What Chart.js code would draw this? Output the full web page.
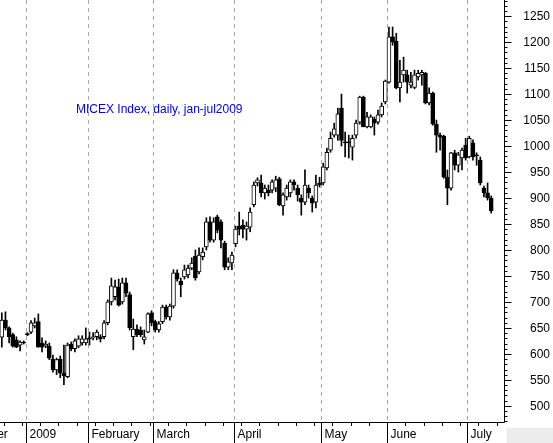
<!DOCTYPE html>
<html lang="en">
  <head>
    <meta charset="UTF-8" />
    <title>MICEX Index, daily</title>
    <script src="https://cdn.jsdelivr.net/npm/chart.js@4/dist/chart.umd.min.js"></script>
    <style>
      html, body { margin: 0; padding: 0; background: #fff; }
      #wrap { width: 553px; height: 443px; }
    </style>
  </head>
  <body>
    <div id="wrap"><canvas id="myChart"></canvas></div>
    <script>
      // candles, Dec 2008 .. Jul 2009
      const opens = [632,665,650,637,627,617,623,
        639,642,654,662,621,615,615,590,569,590,563,556,619,610,615,621,621,
        631,631,633,633,633,660,700,710,729,700,737,714,633,648,646,627,642,679,
        662,646,662,690,671,692,756,740,748,752,765,788,758,787,806,854,819,864,854,813,767,775,
        812,846,848,840,844,887,929,929,910,915,915,919,937,885,902,910,931,919,900,892,919,900,892,929,
        929,958,992,1021,1021,1073,1008,1008,998,1021,1046,1094,1037,1037,1052,1046,1060,1085,
        1123,1210,1202,1112,1137,1137,1117,1113,1133,1137,1140,1083,1102,1042,1021,1019,940,919,987,963,977,1002,
        979,1006,983,973,919,910,900];
      const closes = [665,650,633,615,613,623,621,
        637,660,660,613,613,619,592,569,589,563,558,617,610,625,629,629,629,
        629,633,642,629,660,700,731,729,694,737,717,650,648,637,637,633,677,660,
        646,658,690,671,692,756,744,733,762,765,775,746,790,796,854,819,854,838,819,767,777,790,
        840,840,840,846,873,925,935,910,919,910,931,935,887,906,919,931,925,906,892,925,910,890,925,925,
        960,988,1015,1033,1062,1011,1006,1006,1015,1044,1094,1037,1056,1056,1044,1060,1077,1125,
        1210,1200,1112,1123,1146,1123,1123,1137,1140,1142,1083,1102,1042,1021,1017,940,919,987,963,983,992,977,
        1015,979,981,929,910,900,875];
      const highs = [679,681,652,640,633,625,625,
        641,664,669,677,631,625,621,598,592,596,617,621,623,629,635,635,650,
        642,641,646,637,664,704,746,742,744,746,746,719,667,656,652,646,679,683,
        665,662,694,694,696,762,762,746,771,771,785,800,804,804,862,864,862,867,858,817,785,796,
        846,873,858,854,881,931,939,944,925,925,935,942,940,910,925,935,935,925,906,954,925,904,944,940,
        967,996,1027,1044,1073,1100,1027,1021,1021,1050,1096,1096,1065,1060,1056,1069,1083,1127,
        1229,1229,1217,1165,1171,1146,1142,1146,1146,1146,1142,1112,1104,1050,1025,1021,954,988,992,988,996,1015,
        1019,1012,987,979,923,929,904];
      const lows = [613,646,621,613,612,606,619,
        635,639,650,613,604,612,589,565,560,554,541,554,606,604,612,617,617,
        617,627,627,623,629,656,694,704,692,696,710,646,608,633,633,619,641,654,
        642,642,658,667,665,688,740,710,744,746,762,742,754,781,800,815,815,833,804,762,762,762,
        806,829,823,819,835,883,923,902,898,904,910,912,885,867,896,902,915,894,867,887,900,873,881,921,
        925,954,988,1017,1011,1000,979,977,973,1015,1042,1037,1035,1035,1021,1042,1056,1081,
        1121,1194,1110,1085,1123,1102,1112,1110,1127,1117,1081,1079,1040,988,992,938,887,915,954,950,954,973,
        977,973,963,925,902,896,871];

      // month boundaries (candle index) and names
      const monthStarts = [-14, 7, 24, 42, 64, 88, 106, 128];
      const monthNames = ["December", "2009", "February", "March", "April", "May", "June", "July"];
      const yTicks = [500,550,600,650,700,750,800,850,900,950,1000,1050,1100,1150,1200,1250];
      const chartTitle = "MICEX Index, daily, jan-jul2009";
      const emptySlots = 3; // blank days after the last candle

      const labels = Array.from({ length: opens.length + emptySlots }, (_, i) => i);
      const wicks = lows.map((l, i) => [l, highs[i]]);
      const bodies = opens.map((o, i) => [Math.min(o, closes[i]), Math.max(o, closes[i]) + (o === closes[i] ? 1 : 0)]);
      const bodyColors = opens.map((o, i) => (closes[i] >= o ? "#ffffff" : "#000000"));
      const FONT = "12px 'Liberation Sans', Arial, sans-serif";

      const decor = {
        id: "decor",
        beforeDatasetsDraw(chart) {
          const { ctx, chartArea, scales } = chart;
          const x = scales.x;
          ctx.save();
          ctx.strokeStyle = "#aaaaaa";
          ctx.lineWidth = 1;
          ctx.setLineDash([4, 4]);
          monthStarts.forEach((m) => {
            const px = Math.round(x.getPixelForValue(m - 0.5)) + 0.5;
            if (px < chartArea.left || px > chartArea.right) return;
            ctx.beginPath();
            ctx.moveTo(px, 0);
            ctx.lineTo(px, chartArea.bottom);
            ctx.stroke();
          });
          ctx.restore();
        },
        afterDraw(chart) {
          const { ctx, chartArea, scales } = chart;
          const x = scales.x;
          const y = scales.y;
          ctx.save();
          const bottom = chartArea.bottom;
          const right = Math.round(chartArea.right) + 0.5;
          // grey corner box below the price axis
          ctx.fillStyle = "#ececec";
          ctx.fillRect(right + 2, bottom + 6, chart.width - right, chart.height - bottom);
          ctx.strokeStyle = "#000";
          ctx.lineWidth = 1;
          ctx.beginPath();
          ctx.moveTo(0, bottom + 0.5);
          ctx.lineTo(right, bottom + 0.5);
          ctx.moveTo(right, 0);
          ctx.lineTo(right, bottom + 0.5);
          ctx.stroke();
          // minor ticks every 10 points
          for (let v = 470; v <= 1280; v += 10) {
            const py = Math.round(y.getPixelForValue(v)) + 0.5;
            ctx.beginPath();
            ctx.moveTo(right, py);
            ctx.lineTo(right + 3, py);
            ctx.stroke();
          }
          // right axis ticks and labels
          ctx.font = FONT;
          ctx.fillStyle = "#000";
          ctx.textBaseline = "middle";
          ctx.textAlign = "right";
          yTicks.forEach((v) => {
            const py = Math.round(y.getPixelForValue(v)) + 0.5;
            ctx.beginPath();
            ctx.moveTo(right, py);
            ctx.lineTo(right + 7, py);
            ctx.stroke();
            ctx.fillText(String(v), 550, py);
          });
          // weekly minor ticks
          for (let i = -14; i < labels.length; i += 5) {
            const px = Math.round(x.getPixelForValue(i - 0.5)) + 0.5;
            if (px < 0 || px > chartArea.right) continue;
            ctx.beginPath();
            ctx.moveTo(px, bottom);
            ctx.lineTo(px, bottom + 4);
            ctx.stroke();
          }
          ctx.textAlign = "left";
          monthStarts.forEach((m, k) => {
            const px = Math.round(x.getPixelForValue(m - 0.5)) + 0.5;
            ctx.beginPath();
            ctx.moveTo(px, bottom);
            ctx.lineTo(px, chart.height);
            ctx.stroke();
            ctx.fillText(monthNames[k], px + 3, bottom + 13);
          });
          ctx.fillStyle = "#0000ee";
          ctx.fillText(chartTitle, 76, 110);
          ctx.restore();
        },
      };

      new Chart(document.getElementById("myChart"), {
        type: "bar",
        data: {
          labels: labels,
          datasets: [
            {
              data: wicks,
              backgroundColor: "#000",
              barThickness: 1,
              grouped: false,
              order: 2,
            },
            {
              data: bodies,
              backgroundColor: bodyColors,
              borderColor: "#000",
              borderWidth: 1,
              borderSkipped: false,
              barThickness: 4,
              grouped: false,
              order: 1,
            },
          ],
        },
        options: {
          animation: false,
          responsive: true,
          maintainAspectRatio: false,
          plugins: { legend: { display: false }, tooltip: { enabled: false } },
          layout: { padding: 0 },
          scales: {
            x: {
              offset: true,
              ticks: { display: false },
              grid: { display: false },
              border: { display: false },
              afterFit(s) { s.height = 21; },
            },
            y: {
              position: "right",
              min: 469,
              max: 1281,
              ticks: { display: false },
              grid: { display: false },
              border: { display: false },
              afterFit(s) { s.width = 49; },
            },
          },
        },
        plugins: [decor],
      });
    </script>
  </body>
</html>
